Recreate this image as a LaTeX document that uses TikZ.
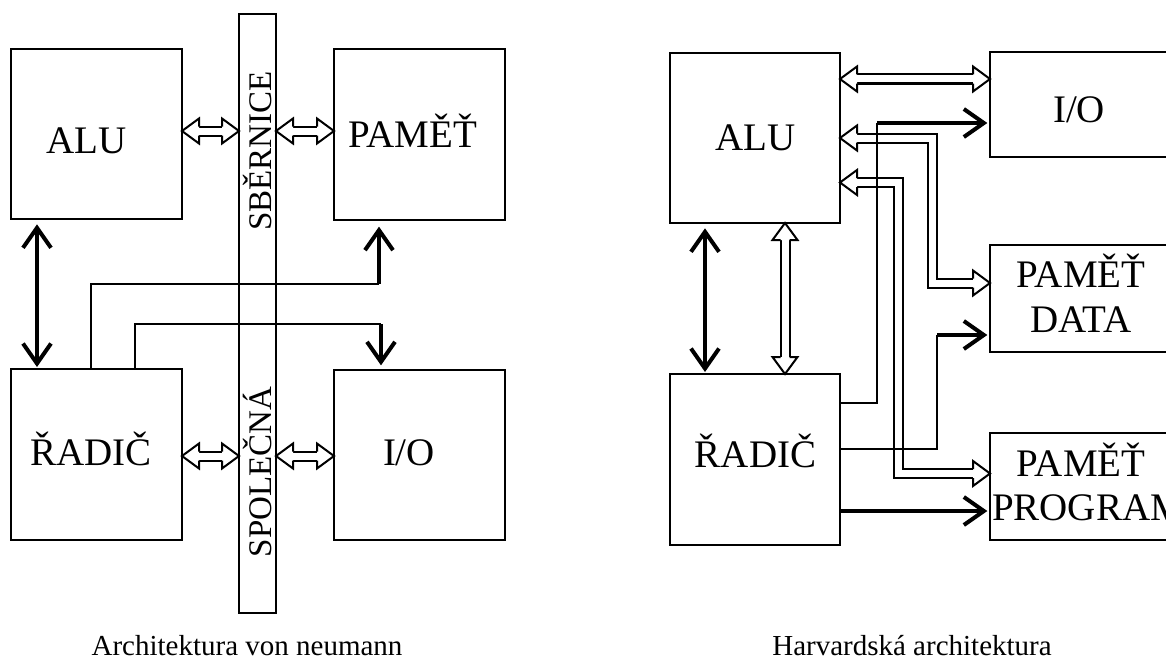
\documentclass[tikz,border=0pt]{standalone}
\usepackage{fontspec}
\setmainfont{Liberation Serif}
\usetikzlibrary{arrows.meta,calc}
\newcommand{\diagfont}{\fontsize{29.25pt}{33.75pt}\selectfont}
\newcommand{\busfont}{\fontsize{24.75pt}{29pt}\selectfont}
\newcommand{\captfont}{\fontsize{21.75pt}{26pt}\selectfont}
\tikzset{
  box/.style 2 args={draw, line width=1.5pt, inner sep=0pt, outer sep=0pt,
    minimum width=#1*0.75pt, minimum height=#2*0.75pt},
  lbl/.style={inner sep=0pt, anchor=base, font=\diagfont},
  bustxt/.style={inner sep=0pt, anchor=base, rotate=90, font=\busfont},
  capt/.style={inner sep=0pt, anchor=base, font=\captfont},
  thn/.style={line width=1.5pt},
  thk/.style={line width=3pt, -{Straight Barb[length=15pt,width=21pt]}},
  thkboth/.style={line width=3pt, {Straight Barb[length=15pt,width=21pt]}-{Straight Barb[length=15pt,width=21pt]}},
  hshaft/.style={line width=1.5pt, double=white, double distance=5.25pt},
  hhead/.pic={\draw[line width=1.5pt, fill=white, line join=miter]
    (-17,4.5) -- (-17,12.5) -- (0,0) -- (-17,-12.5) -- (-17,-4.5);},
}
\newcommand{\hollowboth}[3]{%
  \draw[hshaft] ($(#1)!12.75pt!(#2)$) -- ($(#2)!12.75pt!(#1)$);
  \pic[rotate=#3] at (#2) {hhead};
  \pic[rotate=#3+180] at (#1) {hhead};}
\begin{document}
\begin{tikzpicture}[x=0.75pt,y=-0.75pt]
\useasboundingbox (0,0) rectangle (1166,660);
\clip (0,0) rectangle (1166,660);
% ---------------- von Neumann ----------------
\node[box={171}{170}] (aluL) at (96.5,134) {};
\node[box={171}{171}] (pamL) at (419.5,134.5) {};
\node[box={171}{171}] (radL) at (96.5,454.5) {};
\node[box={171}{170}] (ioL) at (419.5,455) {};
\node[box={37}{599}] (bus) at (257.5,313.5) {};

\coordinate (la1) at (aluL.east |- 0,131);
\coordinate (lb1) at (bus.west |- 0,131);
\coordinate (lb2) at (bus.east |- 0,131);
\coordinate (lp1) at (pamL.west |- 0,131);
\coordinate (lr1) at (radL.east |- 0,456);
\coordinate (lb3) at (bus.west |- 0,456);
\coordinate (lb4) at (bus.east |- 0,456);
\coordinate (li1) at (ioL.west |- 0,456);
\hollowboth{la1}{lb1}{0}
\hollowboth{lb2}{lp1}{0}
\hollowboth{lr1}{lb3}{0}
\hollowboth{lb4}{li1}{0}

\draw[thkboth, shorten <=4pt, shorten >=1.5pt] (aluL.south -| 37,0) -- (radL.north -| 37,0);
\draw[thn] (radL.north -| 91,0) |- (379,284);
\draw[thk, shorten >=5pt] (379,284) -- (pamL.south -| 379,0);
\draw[thn] (radL.north -| 135,0) |- (381,324);
\draw[thk, shorten >=3.5pt] (381,324) -- (ioL.north -| 381,0);

\node[lbl] (aluLt) at (86.5,153) {ALU};
\node[lbl] (pamLt) at (412.5,147) {PAMĚŤ};
\node[lbl] (radLt) at (91,465) {ŘADIČ};
\node[lbl] (ioLt) at (409,465) {I/O};
\node[bustxt] (busT1) at (271,151) {SBĚRNICE};
\node[bustxt] (busT2) at (271,472) {SPOLEČNÁ};
\node[capt] (capL) at (247,655) {Architektura von neumann};

% ---------------- Harvard ----------------
\node[box={170}{170}] (aluR) at (755,138) {};
\node[box={170}{171}] (radR) at (755,459.5) {};
\node[box={182}{105}] (ioR) at (1081,104.5) {};
\node[box={182}{107}] (dataR) at (1081,298.5) {};
\node[box={182}{107}] (progR) at (1081,486.5) {};

\coordinate (ra1) at (aluR.east |- 0,79);
\coordinate (ri1) at (ioR.west |- 0,79);
\hollowboth{ra1}{ri1}{0}
\coordinate (ra2) at (aluR.south -| 785,0);
\coordinate (rr2) at (radR.north -| 785,0);
\hollowboth{ra2}{rr2}{-90}

\coordinate (ra3) at (aluR.east |- 0,138);
\coordinate (rd3) at (dataR.west |- 0,283);
\draw[hshaft] ($(ra3)+(17,0)$) -| (932,283) -- ($(rd3)+(-17,0)$);
\pic[rotate=180] at (ra3) {hhead};
\pic at (rd3) {hhead};

\coordinate (ra4) at (aluR.east |- 0,182.5);
\coordinate (rp4) at (progR.west |- 0,473.5);
\draw[hshaft] ($(ra4)+(17,0)$) -| (898,473.5) -- ($(rp4)+(-17,0)$);
\pic[rotate=180] at (ra4) {hhead};
\pic at (rp4) {hhead};

\draw[thn] (radR.east |- 0,403) -| (877,123);
\draw[thk, shorten >=2pt] (877,123) -- (ioR.west |- 0,123);
\draw[thn] (radR.east |- 0,449) -| (937,335);
\draw[thk, shorten >=2pt] (937,335) -- (dataR.west |- 0,335);
\draw[thk, shorten >=2pt] (radR.east |- 0,511) -- (progR.west |- 0,511);
\draw[thkboth, shorten <=4pt, shorten >=1.5pt] (aluR.south -| 705,0) -- (radR.north -| 705,0);

\node[lbl] (aluRt) at (755.5,150.7) {ALU};
\node[lbl] (radRt) at (755.5,467) {ŘADIČ};
\node[lbl] (ioRt) at (1079,122) {I/O};
\node[lbl] (dataRt1) at (1081,287) {PAMĚŤ};
\node[lbl] (dataRt2) at (1081,332) {DATA};
\node[lbl] (progRt1) at (1081,476) {PAMĚŤ};
\node[lbl] (progRt2) at (1088.5,520) {PROGRAM};
\node[capt] (capR) at (912,655) {Harvardská architektura};
\end{tikzpicture}
\end{document}
